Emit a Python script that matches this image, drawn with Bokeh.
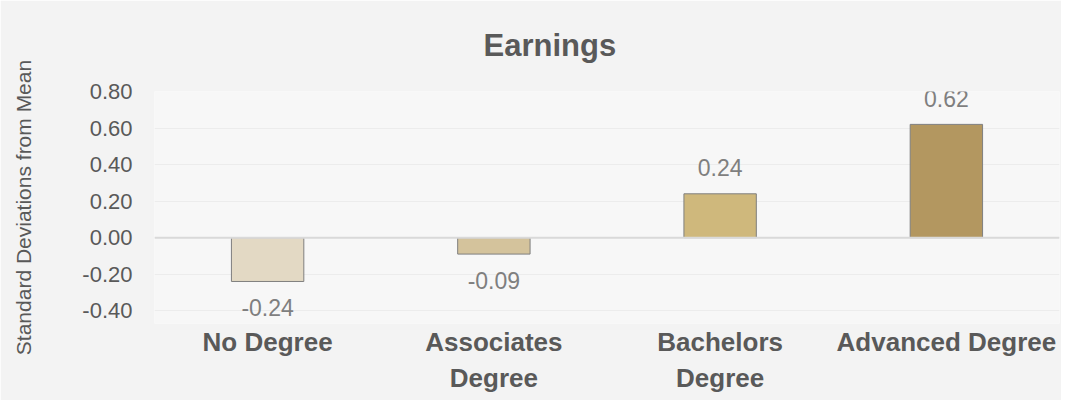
from bokeh.plotting import figure
from bokeh.models import ColumnDataSource, FactorRange, Range1d, FixedTicker, NumeralTickFormatter, Span, LabelSet
from bokeh.core.properties import value
from bokeh.embed import file_html
from bokeh.resources import INLINE

title_text = "Earnings"
categories = ["No Degree", "Associates\nDegree", "Bachelors\nDegree", "Advanced Degree"]
values = [-0.24, -0.09, 0.24, 0.62]
value_labels = ["-0.24", "-0.09", "0.24", "0.62"]
bar_colors = ["#E3D9C4", "#D4C39C", "#CFB87C", "#B39760"]
y_ticks = [-0.4, -0.2, 0.0, 0.2, 0.4, 0.6, 0.8]

FONT = "Liberation Sans"

src = ColumnDataSource(dict(
    cat=categories, val=values, lab=value_labels, color=bar_colors,
    off=[-26 if v < 0 else 26 for v in values],
))

p = figure(x_range=FactorRange(*categories, range_padding=0), y_range=Range1d(-0.47, 0.8),
           width=1061, height=400, output_backend="svg", toolbar_location=None,
           min_border_left=154, min_border_right=2, min_border_top=91, min_border_bottom=77)

p.background_fill_color = "#f7f7f7"
p.border_fill_color = "#f3f3f3"
p.outline_line_color = None

p.title.text = title_text
p.title.text_font = FONT
p.title.text_font_size = "31px"
p.title.text_color = "#595959"
p.title.text_font_style = "bold"
p.title.align = "left"
p.title.offset = 329
p.title.vertical_align = "top"
p.title.standoff = 53

p.vbar(x="cat", top="val", bottom=0, width=0.32, fill_color="color",
       line_color="#7f7f7f", line_width=1, source=src)

zero = Span(location=0, dimension="width", line_color="#d9d9d9", line_width=2)
p.add_layout(zero)

labels = LabelSet(x="cat", y="val", text="lab", y_offset="off", source=src,
                  text_font=value(FONT), text_font_size="23px", text_color="#7f7f7f",
                  text_align="center", text_baseline="middle")
p.add_layout(labels)

p.xgrid.grid_line_color = None
p.ygrid.grid_line_color = "#ececec"
p.ygrid.grid_line_width = 1
p.ygrid.ticker = FixedTicker(ticks=y_ticks)

p.yaxis.ticker = FixedTicker(ticks=y_ticks)
p.yaxis.formatter = NumeralTickFormatter(format="0.00")
p.yaxis.axis_line_color = None
p.yaxis.major_tick_line_color = None
p.yaxis.minor_tick_line_color = None
p.yaxis.major_tick_out = 0
p.yaxis.major_tick_in = 0
p.yaxis.major_label_text_font = FONT
p.yaxis.major_label_text_font_size = "22px"
p.yaxis.major_label_text_color = "#595959"
p.yaxis.major_label_standoff = 22
p.yaxis.axis_label = "Standard Deviations from Mean"
p.yaxis.axis_label_text_font = FONT
p.yaxis.axis_label_text_font_size = "21px"
p.yaxis.axis_label_text_font_style = "normal"
p.yaxis.axis_label_text_color = "#595959"
p.yaxis.axis_label_standoff = 44

p.xaxis.axis_line_color = None
p.xaxis.major_tick_line_color = None
p.xaxis.minor_tick_line_color = None
p.xaxis.major_tick_out = 0
p.xaxis.major_tick_in = 0
p.xaxis.major_label_text_font = FONT
p.xaxis.major_label_text_font_size = "26px"
p.xaxis.major_label_text_font_style = "bold"
p.xaxis.major_label_text_color = "#595959"
p.xaxis.major_label_standoff = 3
p.xaxis.major_label_orientation = "horizontal"

open("out.html", "w").write(file_html(p, INLINE))
